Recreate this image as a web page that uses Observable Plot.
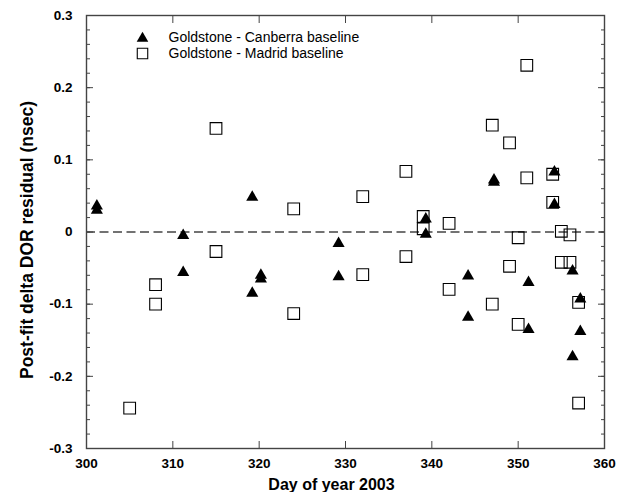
<!DOCTYPE html>
<html>
<head>
<meta charset="utf-8">
<script src="https://cdn.jsdelivr.net/npm/d3@7"></script>
<script src="https://cdn.jsdelivr.net/npm/@observablehq/plot@0.6"></script>
<style>
  html, body { margin: 0; padding: 0; background: #fff; }
  #chart { width: 625px; height: 492px; }
</style>
</head>
<body>
<div id="chart"></div>
<script>
// Goldstone - Canberra baseline (triangles)
const canberraDay = [301.2, 301.2, 311.2, 311.2, 319.2, 319.2, 320.2, 320.2, 329.2, 329.2, 339.3, 339.3, 344.2, 344.2, 347.2, 347.2, 351.2, 351.2, 354.2, 354.2, 356.3, 356.3, 357.2, 357.2];
const canberraRes = [0.036, 0.030, -0.005, -0.056, 0.048, -0.085, -0.060, -0.065, -0.016, -0.062, 0.018, -0.003, -0.061, -0.118, 0.072, 0.069, -0.070, -0.135, 0.083, 0.038, -0.054, -0.173, -0.093, -0.138];

// Goldstone - Madrid baseline (squares)
const madridDay = [305, 308, 308, 315, 315, 324, 324, 332, 332, 337, 337, 339, 339, 342, 342, 347, 347, 349, 349, 350, 350, 351, 351, 354, 354, 355, 355, 356, 356, 357, 357];
const madridRes = [-0.244, -0.073, -0.100, 0.1435, -0.027, 0.032, -0.113, 0.049, -0.059, 0.084, -0.034, 0.0215, 0.0045, 0.012, -0.0795, 0.148, -0.100, 0.1235, -0.0475, -0.008, -0.128, 0.231, 0.075, 0.080, 0.041, 0.001, -0.042, -0.004, -0.042, -0.0975, -0.237];

const xTicks = [300, 310, 320, 330, 340, 350, 360];
const yTicks = [-0.3, -0.2, -0.1, 0, 0.1, 0.2, 0.3];
const yMinorTicks = d3.range(-15, 16).map(d => d / 50);
const seriesNames = ["Goldstone - Canberra baseline", "Goldstone - Madrid baseline"];
const xTitle = "Day of year 2003";
const yTitle = "Post-fit delta DOR residual (nsec)";

const canberra = canberraDay.map((d, i) => ({day: d, res: canberraRes[i]}));
const madrid = madridDay.map((d, i) => ({day: d, res: madridRes[i]}));

const axisColor = "#444";
const yFmt = d => d === 0 ? "0" : d.toFixed(1);
const blank = () => "";

const chart = Plot.plot({
  width: 625,
  height: 492,
  marginLeft: 86,
  marginRight: 21,
  marginTop: 15,
  marginBottom: 44,
  style: {fontFamily: "'Liberation Sans', Arial, Helvetica, sans-serif", fontSize: "13.5px", fontWeight: "bold", color: "#000", background: "#fff"},
  x: {domain: [300, 360]},
  y: {domain: [-0.3, 0.3]},
  marks: [
    Plot.ruleY([0], {stroke: axisColor, strokeWidth: 1.3, strokeDasharray: "9,4.5"}),
    // minor ticks
    Plot.axisY({ticks: yMinorTicks, anchor: "left", tickSize: -4, tickFormat: blank, label: null, stroke: axisColor}),
    Plot.axisY({ticks: yMinorTicks, anchor: "right", tickSize: -4, tickFormat: blank, label: null, stroke: axisColor}),
    // major ticks
    Plot.axisY({ticks: yTicks, anchor: "left", tickSize: -7, tickPadding: 21, tickFormat: yFmt, label: null, stroke: axisColor, fill: "#000"}),
    Plot.axisY({ticks: yTicks, anchor: "right", tickSize: -7, tickFormat: blank, label: null, stroke: axisColor}),
    Plot.axisX({ticks: xTicks, anchor: "bottom", tickSize: -7, tickPadding: 17, tickFormat: d => String(d), label: null, stroke: axisColor, fill: "#000"}),
    Plot.axisX({ticks: xTicks, anchor: "top", tickSize: -7, tickFormat: blank, label: null, stroke: axisColor}),
    Plot.frame({stroke: axisColor, strokeWidth: 1.4}),
    // data
    Plot.dot(madrid, {x: "day", y: "res", symbol: "square", r: 6.6, stroke: "#000", strokeWidth: 1.1, fill: "none"}),
    Plot.dot(canberra, {x: "day", y: "res", symbol: "triangle", r: 4.5, fill: "#000", stroke: "none"}),
    // legend
    Plot.dot([seriesNames[0]], {frameAnchor: "top-left", dx: 56, dy: 23, symbol: "triangle", r: 4.3, fill: "#000", stroke: "none"}),
    Plot.dot([seriesNames[1]], {frameAnchor: "top-left", dx: 56, dy: 38, symbol: "square", r: 5.9, stroke: "#000", strokeWidth: 1.1, fill: "none"}),
    Plot.text([seriesNames[0]], {frameAnchor: "top-left", dx: 82, dy: 22, text: d => d, textAnchor: "start", lineAnchor: "middle", fontSize: 14, fontWeight: "normal", fill: "#000"}),
    Plot.text([seriesNames[1]], {frameAnchor: "top-left", dx: 82, dy: 38, text: d => d, textAnchor: "start", lineAnchor: "middle", fontSize: 14, fontWeight: "normal", fill: "#000"}),
    // axis titles
    Plot.text([xTitle], {frameAnchor: "bottom", dx: -14, dy: 36.5, text: d => d, textAnchor: "middle", lineAnchor: "middle", fontSize: 16, fontWeight: "bold", fill: "#000"}),
    Plot.text([yTitle], {frameAnchor: "left", dx: -59, dy: 8, rotate: -90, text: d => d, textAnchor: "middle", lineAnchor: "middle", fontSize: 17.5, fontWeight: "bold", fill: "#000"})
  ]
});
document.getElementById("chart").appendChild(chart);
</script>
</body>
</html>
